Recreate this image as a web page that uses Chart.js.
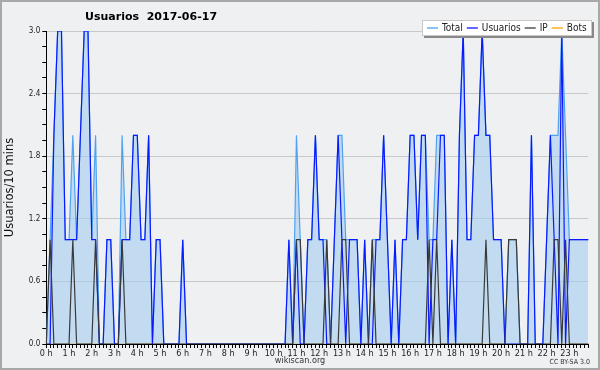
<!DOCTYPE html>
<html>
<head>
<meta charset="utf-8">
<script src="https://cdn.jsdelivr.net/npm/chart.js@4.4.0/dist/chart.umd.min.js"></script>
<style>
  html, body { margin: 0; padding: 0; background: #eff0f2; }
  canvas { display: block; }
</style>
</head>
<body>
<canvas id="chart" width="600" height="370"></canvas>
<script>
// etiquetas de las horas (una cada 6 intervalos de 10 min)
const horas = ['0 h', '1 h', '2 h', '3 h', '4 h', '5 h', '6 h', '7 h', '8 h', '9 h', '10 h', '11 h',
  '12 h', '13 h', '14 h', '15 h', '16 h', '17 h', '18 h', '19 h', '20 h', '21 h', '22 h', '23 h'];

// usuarios por intervalo de 10 minutos (144 intervalos)
const total = [
  0, 1, 2, 3, 3, 1, 1, 2, 1, 2,   3, 3, 1, 2, 0, 0, 1, 1, 0, 0,
  2, 1, 1, 2, 2, 1, 1, 2, 0, 1,   1, 0, 0, 0, 0, 0, 1, 0, 0, 0,
  0, 0, 0, 0, 0, 0, 0, 0, 0, 0,   0, 0, 0, 0, 0, 0, 0, 0, 0, 0,
  0, 0, 0, 0, 1, 0, 2, 1, 0, 1,   1, 2, 1, 1, 1, 0, 1, 2, 2, 1,
  1, 1, 1, 0, 1, 0, 1, 1, 1, 2,   1, 0, 1, 0, 1, 1, 2, 2, 1, 2,
  2, 1, 1, 2, 2, 2, 0, 1, 0, 2,   3, 1, 1, 2, 2, 3, 2, 2, 1, 1,
  1, 0, 1, 1, 1, 0, 0, 0, 2, 0,   0, 0, 1, 2, 2, 2, 3, 2, 1, 1,
  1, 1, 1, 1
];
const usuarios = [
  0, 0, 2, 3, 3, 1, 1, 1, 1, 2,   3, 3, 1, 1, 0, 0, 1, 1, 0, 0,
  1, 1, 1, 2, 2, 1, 1, 2, 0, 1,   1, 0, 0, 0, 0, 0, 1, 0, 0, 0,
  0, 0, 0, 0, 0, 0, 0, 0, 0, 0,   0, 0, 0, 0, 0, 0, 0, 0, 0, 0,
  0, 0, 0, 0, 1, 0, 1, 0, 0, 1,   1, 2, 1, 1, 0, 0, 1, 2, 1, 0,
  1, 1, 1, 0, 1, 0, 0, 1, 1, 2,   1, 0, 1, 0, 1, 1, 2, 2, 1, 2,
  2, 0, 1, 1, 2, 2, 0, 1, 0, 2,   3, 1, 1, 2, 2, 3, 2, 2, 1, 1,
  1, 0, 0, 0, 0, 0, 0, 0, 2, 0,   0, 0, 1, 2, 1, 0, 3, 0, 1, 1,
  1, 1, 1, 1
];
const ip = [
  0, 1, 0, 0, 0, 0, 0, 1, 0, 0,   0, 0, 0, 1, 0, 0, 0, 0, 0, 0,
  1, 0, 0, 0, 0, 0, 0, 0, 0, 0,   0, 0, 0, 0, 0, 0, 0, 0, 0, 0,
  0, 0, 0, 0, 0, 0, 0, 0, 0, 0,   0, 0, 0, 0, 0, 0, 0, 0, 0, 0,
  0, 0, 0, 0, 0, 0, 1, 1, 0, 0,   0, 0, 0, 0, 1, 0, 0, 0, 1, 1,
  0, 0, 0, 0, 0, 0, 1, 0, 0, 0,   0, 0, 0, 0, 0, 0, 0, 0, 0, 0,
  0, 1, 0, 1, 0, 0, 0, 0, 0, 0,   0, 0, 0, 0, 0, 0, 1, 0, 0, 0,
  0, 0, 1, 1, 1, 0, 0, 0, 0, 0,   0, 0, 0, 0, 1, 1, 0, 1, 0, 0,
  0, 0, 0, 0
];
const bots = [
  0, 0, 0, 0, 0, 0, 0, 0, 0, 0,   0, 0, 0, 0, 0, 0, 0, 0, 0, 0,
  0, 0, 0, 0, 0, 0, 0, 0, 0, 0,   0, 0, 0, 0, 0, 0, 0, 0, 0, 0,
  0, 0, 0, 0, 0, 0, 0, 0, 0, 0,   0, 0, 0, 0, 0, 0, 0, 0, 0, 0,
  0, 0, 0, 0, 0, 0, 0, 0, 0, 0,   0, 0, 0, 0, 0, 0, 0, 0, 0, 0,
  0, 0, 0, 0, 0, 0, 0, 0, 0, 0,   0, 0, 0, 0, 0, 0, 0, 0, 0, 0,
  0, 0, 0, 0, 0, 0, 0, 0, 0, 0,   0, 0, 0, 0, 0, 0, 0, 0, 0, 0,
  0, 0, 0, 0, 0, 0, 0, 0, 0, 0,   0, 0, 0, 0, 0, 0, 0, 0, 0, 0,
  0, 0, 0, 0
];

// intervalos de 10 min: "0 h", "", "", ... (solo la hora lleva texto)
const intervalos = [];
horas.forEach(h => { intervalos.push(h); for (let k = 1; k < 6; k++) intervalos.push(''); });

const FONT = '"DejaVu Sans Condensed", "Liberation Sans Narrow", "DejaVu Sans", sans-serif';

// titulo, leyenda, pie y marco dibujados a mano
const decoracion = {
  id: 'decoracion',
  beforeDraw(chart) {
    const ctx = chart.ctx;
    ctx.save();
    ctx.fillStyle = '#eff0f2';
    ctx.fillRect(0, 0, chart.width, chart.height);
    ctx.restore();
  },
  afterDraw(chart) {
    const ctx = chart.ctx;
    ctx.save();
    // marco
    ctx.strokeStyle = '#a8a8a8';
    ctx.lineWidth = 2;
    ctx.strokeRect(1, 1, chart.width - 2, chart.height - 2);

    // titulo
    ctx.fillStyle = '#000';
    ctx.font = 'bold 11px "DejaVu Sans", sans-serif';
    ctx.textBaseline = 'middle';
    ctx.textAlign = 'left';
    ctx.fillText('Usuarios  2017-06-17', 85, 17);

    // leyenda
    const x0 = 422, y0 = 20, w = 170, h = 16;
    ctx.fillStyle = '#888';
    ctx.fillRect(x0 + 2, y0 + 2, w, h);
    ctx.fillStyle = '#fff';
    ctx.fillRect(x0, y0, w, h);
    ctx.strokeStyle = '#c8c8c8';
    ctx.lineWidth = 1;
    ctx.strokeRect(x0 + 0.5, y0 + 0.5, w - 1, h - 1);
    ctx.font = '10px ' + FONT;
    let x = x0 + 5;
    const ym = y0 + h / 2;
    chart.data.datasets.forEach(ds => {
      ctx.strokeStyle = ds.borderColor;
      ctx.lineWidth = 1.3;
      ctx.beginPath();
      ctx.moveTo(x, ym);
      ctx.lineTo(x + 11, ym);
      ctx.stroke();
      x += 15;
      ctx.fillStyle = '#222';
      ctx.fillText(ds.label, x, ym);
      x += ctx.measureText(ds.label).width + 4;
    });

    // pie
    ctx.fillStyle = '#333';
    ctx.font = '9px ' + FONT;
    ctx.textAlign = 'center';
    ctx.fillText('wikiscan.org', 300, 361);
    ctx.font = '7px ' + FONT;
    ctx.textAlign = 'right';
    ctx.fillText('CC BY-SA 3.0', 590, 362);
    ctx.restore();
  }
};

const esMayor = v => Math.abs(v / 0.6 - Math.round(v / 0.6)) < 1e-6;

new Chart(document.getElementById('chart').getContext('2d'), {
  type: 'line',
  data: {
    labels: intervalos,
    datasets: [
      {
        label: 'Total',
        data: total,
        borderColor: '#4ea3f0',
        backgroundColor: 'rgba(157, 202, 238, 0.55)',
        fill: 'origin',
        order: 3,
      },
      {
        label: 'Usuarios',
        data: usuarios,
        borderColor: '#0a1aff',
        fill: false,
        order: 2,
      },
      {
        label: 'IP',
        data: ip,
        borderColor: '#3a3a3a',
        fill: false,
        order: 1,
      },
      {
        label: 'Bots',
        data: bots,
        borderColor: '#ffa000',
        fill: false,
        order: 4,
      },
    ],
  },
  options: {
    responsive: false,
    animation: false,
    events: [],
    layout: { padding: { top: 31, right: 11.7, left: 0, bottom: 0 } },
    elements: {
      point: { radius: 0 },
      line: { borderWidth: 1.2, tension: 0 },
    },
    plugins: {
      legend: { display: false },
      title: { display: false },
      tooltip: { enabled: false },
    },
    scales: {
      x: {
        offset: false,
        afterFit: s => { s.height = 26; },
        border: { color: '#000', width: 1 },
        grid: {
          drawOnChartArea: false,
          tickLength: 4,
          tickColor: '#000',
        },
        ticks: {
          autoSkip: false,
          maxRotation: 0,
          padding: 0,
          color: '#222',
          font: { family: FONT, size: 9 },
        },
      },
      y: {
        min: 0,
        max: 3,
        afterFit: s => { s.width = 46.3; },
        border: { color: '#000', width: 1 },
        grid: {
          color: c => esMayor(c.tick.value) ? '#c9c9c9' : 'rgba(0,0,0,0)',
          tickColor: '#000',
          tickLength: 4,
        },
        ticks: {
          stepSize: 0.15,
          autoSkip: false,
          padding: 2,
          color: '#222',
          font: { family: FONT, size: 8 },
          callback: v => esMayor(v) ? v.toFixed(1) : '',
        },
        title: {
          display: true,
          text: 'Usuarios/10 mins',
          color: '#111',
          font: { family: '"DejaVu Sans", sans-serif', size: 11.5 },
          padding: { top: 3, bottom: 0 },
        },
      },
    },
  },
  plugins: [decoracion],
});
</script>
</body>
</html>
